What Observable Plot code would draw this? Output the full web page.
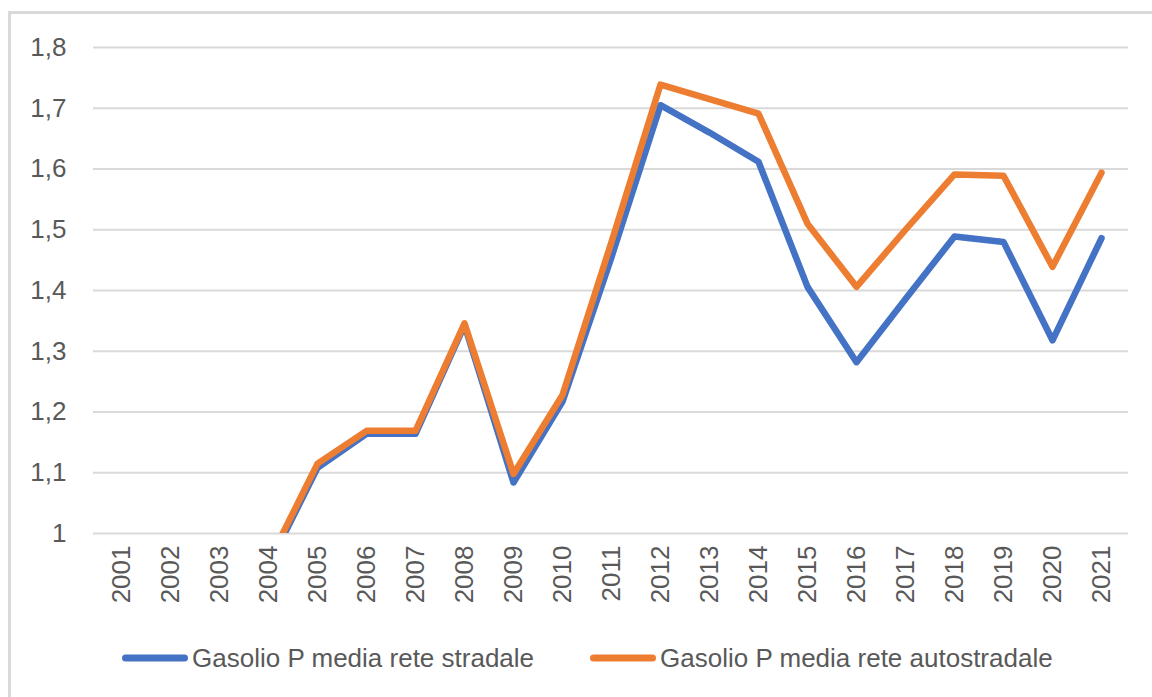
<!DOCTYPE html>
<html>
<head>
<meta charset="utf-8">
<script src="https://cdn.jsdelivr.net/npm/d3@7"></script>
<script src="https://cdn.jsdelivr.net/npm/@observablehq/plot@0.6"></script>
<style>
  html, body { margin: 0; padding: 0; background: #fff; }
  body { width: 1152px; height: 697px; position: relative; overflow: hidden; font-family: "Liberation Sans", Arial, sans-serif; }
  #frame { position: absolute; left: 8px; top: 11px; width: 1160px; height: 700px; border-left: 3px solid #d9d9d9; border-top: 3px solid #d9d9d9; box-sizing: border-box; }
  #chart { position: absolute; left: 0; top: 0; }
  .leg { position: absolute; top: 658px; transform: translateY(-50%); display: flex; align-items: center; font-size: 26px; color: #595959; white-space: nowrap; }
  .sw { display: inline-block; height: 7px; border-radius: 4px; margin-right: 4px; }
</style>
</head>
<body>
<div id="frame"></div>
<div id="chart"></div>
<div class="leg" style="left:122px"><span class="sw" style="width:66px;background:#4472C4"></span><span id="l0"></span></div>
<div class="leg" style="left:590px"><span class="sw" style="width:66px;background:#ED7D31"></span><span id="l1"></span></div>
<script>
const years = ["2001","2002","2003","2004","2005","2006","2007","2008","2009","2010","2011","2012","2013","2014","2015","2016","2017","2018","2019","2020","2021"];
const seriesNames = ["Gasolio P media rete stradale", "Gasolio P media rete autostradale"];
const stradale = [0.88, 0.86, 0.87, 0.947, 1.108, 1.164, 1.164, 1.343, 1.084, 1.217, 1.455, 1.705, 1.66, 1.612, 1.406, 1.282, 1.386, 1.489, 1.48, 1.318, 1.486];
const autostradale = [0.89, 0.87, 0.88, 0.953, 1.115, 1.169, 1.169, 1.346, 1.098, 1.228, 1.48, 1.739, 1.715, 1.691, 1.51, 1.406, 1.50, 1.591, 1.589, 1.439, 1.594];
const yTicks = [1, 1.1, 1.2, 1.3, 1.4, 1.5, 1.6, 1.7, 1.8];
const yTickLabels = ["1", "1,1", "1,2", "1,3", "1,4", "1,5", "1,6", "1,7", "1,8"];
const colors = ["#4472C4", "#ED7D31"];

const data = [
  ...years.map((y, i) => ({year: y, value: stradale[i], series: seriesNames[0]})),
  ...years.map((y, i) => ({year: y, value: autostradale[i], series: seriesNames[1]}))
];

const W = 1152, H = 625;
const chart = Plot.plot({
  width: W,
  height: H,
  marginTop: 47,
  marginBottom: H - 533,
  marginLeft: 93,
  marginRight: 24,
  style: {fontFamily: "'Liberation Sans', Arial, sans-serif", fontSize: "26px", color: "#595959", background: "transparent"},
  x: {type: "point", domain: years, label: null},
  y: {domain: [1, 1.8], label: null},
  color: {domain: seriesNames, range: colors},
  marks: [
    Plot.ruleY(yTicks, {stroke: "#d9d9d9", strokeWidth: 2}),
    Plot.axisY({ticks: yTicks, tickFormat: (d, i) => yTickLabels[yTicks.indexOf(d)], tickSize: 0, tickPadding: 27, label: null, fontSize: 26}),
    Plot.axisX({tickSize: 0, tickRotate: -90, tickPadding: 12, label: null, fontSize: 26}),
    Plot.line(data, {x: "year", y: "value", z: "series", stroke: "series", strokeWidth: 6.5, strokeLinejoin: "round", strokeLinecap: "round", clip: true})
  ]
});
document.getElementById("chart").appendChild(chart);
document.getElementById("l0").textContent = seriesNames[0];
document.getElementById("l1").textContent = seriesNames[1];
</script>
</body>
</html>
